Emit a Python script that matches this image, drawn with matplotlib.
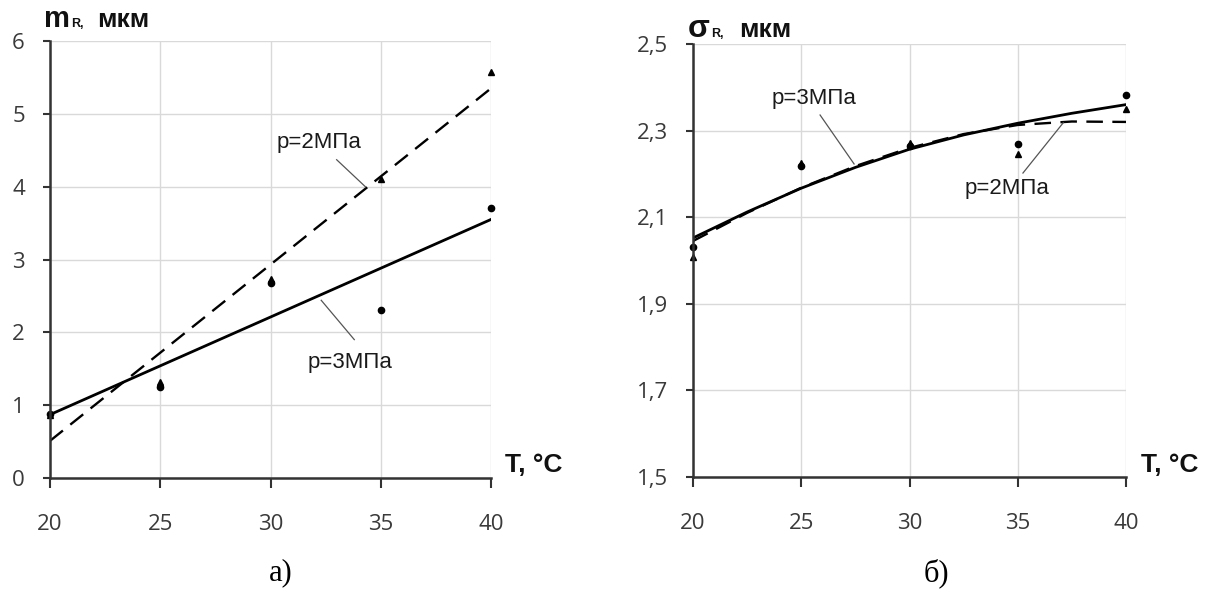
import matplotlib
matplotlib.use("Agg")
import matplotlib.pyplot as plt
from matplotlib.ticker import FuncFormatter

W, H = 1214, 592

T = [20, 25, 30, 35, 40]

# а) m_R, мкм
m_p2 = [0.86, 1.32, 2.73, 4.1, 5.58]      # triangles, p=2МПа
m_p3 = [0.88, 1.25, 2.68, 2.31, 3.71]     # circles, p=3МПа
m_fit_T = [20, 40]
m_fit_p2 = [0.51, 5.35]
m_fit_p3 = [0.87, 3.55]

# б) sigma_R, мкм
s_p2 = [2.008, 2.226, 2.272, 2.247, 2.35]
s_p3 = [2.031, 2.218, 2.264, 2.27, 2.382]
s_fit_T = [20, 22.5, 25, 27.5, 30, 32.5, 35, 37.5, 40]
s_fit_p2 = [2.045, 2.11, 2.168, 2.218, 2.26, 2.292, 2.313, 2.321, 2.32]
s_fit_p3 = [2.052, 2.112, 2.167, 2.215, 2.257, 2.29, 2.317, 2.34, 2.36]

tick_font = "Open Sans"
lab_font = "Liberation Sans"
cap_font = "Liberation Serif"


def fx(px):
    return px / W


def fy(py):
    return 1 - py / H


def style_axes(ax, yticks, fmt):
    ax.set_xlim(20, 40)
    ax.set_xticks(T)
    ax.set_yticks(yticks)
    ax.set_ylim(yticks[0], yticks[-1])
    ax.yaxis.set_major_formatter(FuncFormatter(fmt))
    ax.grid(True, color="#d9d9d9", lw=1.0)
    ax.set_axisbelow(True)
    for s in ["top", "right"]:
        ax.spines[s].set_visible(False)
    for s in ["left", "bottom"]:
        ax.spines[s].set_color("#333333")
        ax.spines[s].set_linewidth(1.8)
    ax.tick_params(axis="y", direction="out", length=5, width=1.5,
                   color="#333333", pad=13, labelsize=16, labelcolor="#3a3a3a")
    ax.tick_params(axis="x", direction="out", length=7, width=1.5,
                   color="#333333", pad=19, labelsize=16, labelcolor="#3a3a3a")
    for lab in ax.get_xticklabels() + ax.get_yticklabels():
        lab.set_fontfamily(tick_font)


def leader(ax, text, txy, p0, p1):
    ax.text(txy[0], txy[1], text, ha="center", va="center", fontsize=16,
            family=lab_font, color="#1a1a1a")
    ax.plot([p0[0], p1[0]], [p0[1], p1[1]], color="#555555", lw=0.9)


fig = plt.figure(figsize=(W / 100, H / 100), dpi=100)

# ---- а)
ax1 = fig.add_axes([fx(50), fy(478), fx(441), 437 / H])
style_axes(ax1, [0, 1, 2, 3, 4, 5, 6], lambda v, p: "%d" % v)
ax1.plot(m_fit_T, m_fit_p2, color="black", lw=1.7, ls=(0, (7, 4)))
ax1.plot(m_fit_T, m_fit_p3, color="black", lw=2.0)
ax1.plot(T, m_p2, "^", color="black", ms=5, clip_on=False)
ax1.plot(T, m_p3, "o", color="black", ms=4.5, clip_on=False)
leader(ax1, "p=2МПа", (32.2, 4.6), (33.0, 4.37), (34.3, 4.0))
leader(ax1, "p=3МПа", (33.6, 1.58), (33.8, 1.9), (32.3, 2.44))

# ---- б)
ax2 = fig.add_axes([fx(693), fy(477), fx(433), 433 / H])
style_axes(ax2, [1.5, 1.7, 1.9, 2.1, 2.3, 2.5],
           lambda v, p: ("%.1f" % v).replace(".", ","))
ax2.plot(s_fit_T, s_fit_p2, color="black", lw=1.7, ls=(0, (7, 4)))
ax2.plot(s_fit_T, s_fit_p3, color="black", lw=2.0)
ax2.plot(T, s_p2, "^", color="black", ms=5, clip_on=False)
ax2.plot(T, s_p3, "o", color="black", ms=4.5, clip_on=False)
leader(ax2, "p=3МПа", (25.6, 2.375), (25.87, 2.336), (27.44, 2.223))
leader(ax2, "p=2МПа", (34.5, 2.167), (35.24, 2.202), (37.1, 2.318))

# axis titles
bold = dict(family=lab_font, fontweight="bold", color="#111111", va="baseline")
fig.text(fx(44), fy(27), "m", fontsize=21, **bold)
fig.text(fx(71), fy(27), "R,", fontsize=9, **bold)
fig.text(fx(97), fy(27), "мкм", fontsize=19, **bold)
fig.text(fx(688), fy(37), "σ", fontsize=23, **bold)
fig.text(fx(711), fy(37), "R,", fontsize=9, **bold)
fig.text(fx(739), fy(37), "мкм", fontsize=19, **bold)
fig.text(fx(505), fy(472), "T, °C", fontsize=19, **bold)
fig.text(fx(1141), fy(472), "T, °C", fontsize=19, **bold)

# captions
fig.text(fx(281), fy(573), "а)", fontsize=22, family=cap_font,
         ha="center", va="center")
fig.text(fx(936), fy(573), "б)", fontsize=22, family=cap_font,
         ha="center", va="center")

fig.savefig("out.png", dpi=100)
